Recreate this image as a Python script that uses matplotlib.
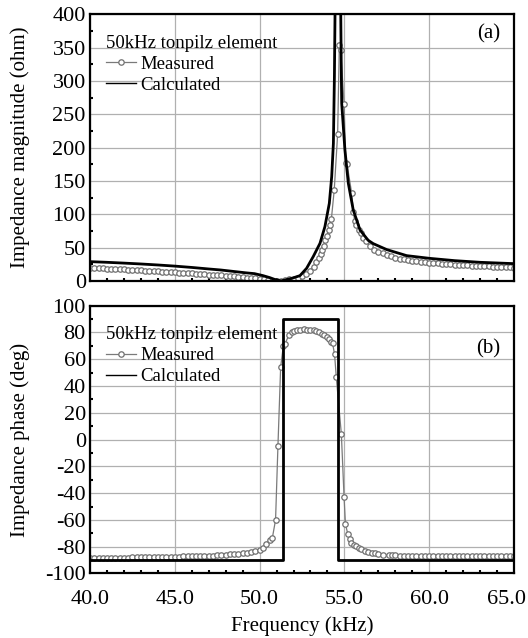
import matplotlib
matplotlib.use('Agg')
import matplotlib.pyplot as plt
import matplotlib.transforms as mtransforms
from matplotlib.ticker import MultipleLocator, FormatStrFormatter

# ---- impedance magnitude (ohm) ----
meas_mag_f = [40.0, 40.25, 40.5, 40.75, 41.0, 41.25, 41.5, 41.75, 42.0, 42.25, 42.5, 42.75,
              43.0, 43.25, 43.5, 43.75, 44.0, 44.25, 44.5, 44.75, 45.0, 45.25, 45.5, 45.75,
              46.0, 46.25, 46.5, 46.75, 47.0, 47.25, 47.5, 47.75, 48.0, 48.25, 48.5, 48.75,
              49.0, 49.25, 49.5, 49.75, 50.0, 50.25, 50.5, 50.75, 51.0, 51.25, 51.5, 51.75,
              52.0, 52.25, 52.5, 52.75, 53.0, 53.18, 53.35, 53.48, 53.6, 53.68, 53.78, 53.87,
              53.97, 54.07, 54.15, 54.23, 54.4, 54.6, 54.7, 54.78, 54.98, 55.08, 55.15, 55.43,
              55.53, 55.6, 55.7, 55.86, 55.95, 56.1, 56.25, 56.5, 56.75, 57.0, 57.28, 57.5,
              57.75, 58.0, 58.25, 58.5, 58.75, 59.0, 59.25, 59.5, 59.75, 60.0, 60.25, 60.5,
              60.75, 61.0, 61.25, 61.5, 61.75, 62.0, 62.25, 62.5, 62.75, 63.0, 63.25, 63.5,
              63.75, 64.0, 64.25, 64.5, 64.75, 65.0]
meas_mag = [19.5, 19.3, 19.0, 18.8, 18.5, 18.2, 17.9, 17.6, 17.3, 17.0, 16.7, 16.4,
            16.0, 15.7, 15.3, 14.9, 14.5, 14.1, 13.7, 13.3, 12.9, 12.5, 12.1, 11.7,
            11.3, 10.9, 10.5, 10.1, 9.7, 9.3, 8.9, 8.4, 7.9, 7.4, 6.8, 6.2,
            5.6, 5.0, 4.4, 3.8, 3.0, 2.3, 1.5, 0.7, 0.2, 0.5, 1.2, 2.3,
            3.6, 5.2, 7.5, 11.0, 15.5, 21.5, 28.0, 34.0, 40.0, 46.5, 53.0, 61.0,
            68.0, 76.5, 84.0, 92.5, 136.5, 220.0, 354.0, 346.0, 265.0, 177.0, 176.0, 131.5,
            104.0, 90.0, 84.0, 76.5, 71.5, 65.0, 60.0, 52.0, 47.0, 44.0, 41.5, 39.5,
            37.0, 35.0, 33.5, 32.5, 31.5, 30.5, 29.7, 28.9, 28.2, 27.5, 27.0, 26.5,
            26.0, 25.5, 25.1, 24.7, 24.3, 23.9, 23.5, 23.1, 22.8, 22.5, 22.1, 21.8,
            21.5, 21.2, 20.9, 20.6, 20.3, 20.0]

calc_mag_f = [40.0, 41.0, 42.0, 43.0, 44.0, 45.0, 46.0, 47.0, 47.7, 48.5, 49.2, 49.7,
              50.2, 50.6, 50.87, 51.26, 51.5, 51.9, 52.38, 52.77, 53.16, 53.56, 53.85, 54.11,
              54.25, 54.35, 54.41, 54.45, 54.6, 54.78, 54.82, 54.84, 55.03, 55.23, 55.52, 55.92,
              56.4, 56.7, 57.5, 58.67, 60.0, 61.5, 63.0, 64.0, 65.0]
calc_mag = [29.0, 28.0, 26.8, 25.5, 24.0, 22.3, 20.3, 18.0, 16.5, 14.2, 12.2, 11.0,
            8.0, 5.0, 2.5, 0.0, 1.5, 4.0, 8.0, 19.0, 36.5, 56.5, 81.5, 116.5,
            156.5, 206.5, 306.5, 410.0, 1500.0, 410.0, 306.5, 266.5, 196.5, 146.5, 106.5, 76.5,
            61.0, 56.0, 47.0, 38.0, 34.0, 30.5, 28.0, 27.0, 26.0]

# ---- impedance phase (deg) ----
meas_ph_f = [40.0, 40.25, 40.5, 40.75, 41.0, 41.25, 41.5, 41.75, 42.0, 42.25, 42.5, 42.75,
             43.0, 43.25, 43.5, 43.75, 44.0, 44.25, 44.5, 44.75, 45.0, 45.25, 45.5, 45.75,
             46.0, 46.25, 46.5, 46.75, 47.0, 47.25, 47.5, 47.75, 48.0, 48.25, 48.5, 48.75,
             49.0, 49.25, 49.5, 49.75, 50.0, 50.2, 50.4, 50.6, 50.75, 50.94, 51.08, 51.24,
             51.4, 51.5, 51.73, 51.9, 52.03, 52.2, 52.4, 52.6, 52.8, 53.0, 53.2, 53.35,
             53.5, 53.65, 53.8, 53.95, 54.1, 54.2, 54.3, 54.42, 54.52, 54.82, 54.98, 55.06,
             55.2, 55.3, 55.4, 55.55, 55.7, 55.85, 56.0, 56.2, 56.4, 56.6, 56.8, 57.0,
             57.3, 57.6, 57.8, 58.0, 58.25, 58.5, 58.75, 59.0, 59.25, 59.5, 59.75, 60.0,
             60.25, 60.5, 60.75, 61.0, 61.25, 61.5, 61.75, 62.0, 62.25, 62.5, 62.75, 63.0,
             63.25, 63.5, 63.75, 64.0, 64.25, 64.5, 64.75, 65.0]
meas_ph = [-88.5, -88.5, -88.4, -88.4, -88.3, -88.3, -88.2, -88.2, -88.1, -88.1, -88.0, -88.0,
           -87.9, -87.9, -87.8, -87.8, -87.7, -87.7, -87.6, -87.6, -87.5, -87.4, -87.3, -87.2,
           -87.1, -87.0, -86.9, -86.8, -86.7, -86.6, -86.4, -86.2, -86.0, -85.8, -85.6, -85.3,
           -85.0, -84.5, -84.0, -83.2, -82.2, -81.0, -78.0, -75.0, -73.5, -60.0, -5.0, 54.0,
           70.0, 71.5, 78.0, 80.0, 81.0, 81.5, 82.0, 82.2, 82.0, 81.8, 81.5, 81.0,
           80.0, 79.0, 78.0, 76.5, 75.0, 73.0, 72.0, 63.5, 46.6, 4.0, -43.0, -63.0,
           -70.6, -74.0, -77.0, -78.5, -79.4, -81.0, -82.0, -83.0, -84.0, -84.6, -85.0, -85.5,
           -86.0, -86.3, -86.4, -86.5, -86.6, -86.7, -86.7, -86.8, -86.8, -86.9, -86.9, -87.0,
           -87.0, -87.0, -87.1, -87.1, -87.1, -87.1, -87.2, -87.2, -87.2, -87.2, -87.2, -87.2,
           -87.3, -87.3, -87.3, -87.3, -87.3, -87.3, -87.3, -87.3]

calc_ph_f = [40.0, 51.35, 51.35, 54.65, 54.65, 65.0]
calc_ph = [-90.0, -90.0, 90.0, 90.0, -90.0, -90.0]

legend_title = '50kHz tonpilz element'
xticks = [40.0, 45.0, 50.0, 55.0, 60.0, 65.0]

plt.rcParams['font.family'] = ['Liberation Serif', 'DejaVu Serif']
plt.rcParams['axes.unicode_minus'] = False
FS_TICK = 16
FS_LABEL = 15
FS_LEG = 13.5

fig = plt.figure(figsize=(5.28, 6.38), dpi=100)
ax1 = fig.add_axes([0.1705, 0.5596, 0.803, 0.418])
ax2 = fig.add_axes([0.1705, 0.1011, 0.803, 0.420])

meas_style = dict(color='#7a7a7a', lw=0.9, marker='o', ms=3.9, mfc='white',
                  mec='#707070', mew=0.9, label='Measured')


def setup(ax, ylim, major, minor):
    ax.set_xlim(40, 65)
    ax.set_ylim(*ylim)
    ax.xaxis.set_major_locator(MultipleLocator(5))
    ax.xaxis.set_minor_locator(MultipleLocator(1))
    ax.yaxis.set_major_locator(MultipleLocator(major))
    ax.yaxis.set_minor_locator(MultipleLocator(minor))
    ax.grid(True, which='major', color='#b0b0b0', lw=0.9)
    ax.set_axisbelow(True)
    for s in ax.spines.values():
        s.set_linewidth(1.6)
    ax.tick_params(which='major', direction='in', length=0, labelsize=FS_TICK, pad=3)
    ax.tick_params(which='minor', direction='in', length=2.5, width=1.5,
                   left=True, bottom=True)
    ax.tick_params(axis='x', which='major', pad=12)
    ax.yaxis.set_label_coords(-0.142, 0.5)


# top: magnitude
ax1.plot(meas_mag_f, meas_mag, **meas_style)
ax1.plot(calc_mag_f, calc_mag, color='black', lw=2.0, label='Calculated')
setup(ax1, (0, 400), 50, 25)
ax1.tick_params(axis='x', labelbottom=False)
ax1.set_ylabel('Impedance magnitude (ohm)', fontsize=FS_LABEL)
ax1.text(0.94, 0.925, '(a)', transform=ax1.transAxes, fontsize=FS_LABEL,
         ha='center', va='center')

# bottom: phase
ax2.plot(meas_ph_f, meas_ph, **meas_style)
ax2.plot(calc_ph_f, calc_ph, color='black', lw=2.0, label='Calculated')
setup(ax2, (-100, 100), 20, 10)
ax2.set_xticks(xticks)
ax2.xaxis.set_major_formatter(FormatStrFormatter('%.1f'))
ax2.set_ylabel('Impedance phase (deg)', fontsize=FS_LABEL)
ax2.set_xlabel('Frequency (kHz)', fontsize=FS_LABEL, labelpad=5)
ax2.text(0.94, 0.84, '(b)', transform=ax2.transAxes, fontsize=FS_LABEL,
         ha='center', va='center')

# last x label pulled in a little, as in the original
fig.canvas.draw()
last = ax2.get_xticklabels()[-1]
last.set_transform(last.get_transform() +
                   mtransforms.ScaledTranslation(-8 / 100, 0, fig.dpi_scale_trans))

for ax in (ax1, ax2):
    h, l = ax.get_legend_handles_labels()
    leg = ax.legend(h, l, title=legend_title, loc='upper left', frameon=False,
                    bbox_to_anchor=(0.012, 0.964), borderaxespad=0.0,
                    fontsize=FS_LEG, title_fontsize=FS_LEG, handlelength=1.6,
                    handletextpad=0.2, labelspacing=0.2, borderpad=0.6,
                    alignment='left')
    for lh in leg.get_lines():
        if lh.get_color() == 'black':
            lh.set_linewidth(1.0)

fig.savefig('out.png', dpi=100)
